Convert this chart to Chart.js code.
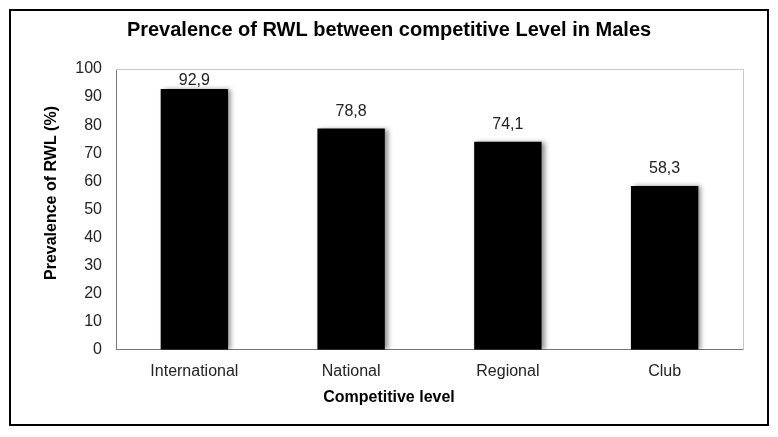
<!DOCTYPE html>
<html>
<head>
<meta charset="utf-8">
<script src="https://cdn.jsdelivr.net/npm/chart.js@4"></script>
<style>
  body { margin: 0; background: #fff; }
  #wrap { position: absolute; left: 9px; top: 9px; width: 756px; height: 413px; border: 2px solid #000; }
  canvas { display: block; }
</style>
</head>
<body>
<div id="wrap"><canvas id="rwlChart" width="756" height="413"></canvas></div>
<script>
// Chart data
const levels = ['International', 'National', 'Regional', 'Club'];
const prevalence = [92.9, 78.8, 74.1, 58.3];
const yTicks = [0, 10, 20, 30, 40, 50, 60, 70, 80, 90, 100];

const FONT = '"Liberation Sans", Arial, sans-serif';

// shadow behind the bars, like the original
const barShadow = {
    id: 'barShadow',
    beforeDatasetsDraw(chart) {
        const ctx = chart.ctx;
        ctx.save();
        ctx.shadowColor = 'rgba(0,0,0,0.45)';
        ctx.shadowBlur = 5;
        ctx.shadowOffsetX = 3;
        ctx.shadowOffsetY = 0;
    },
    afterDatasetsDraw(chart) {
        chart.ctx.restore();
    }
};

// value labels, top/right frame and the y axis title
const extras = {
    id: 'extras',
    afterDraw(chart) {
        const ctx = chart.ctx;
        const area = chart.chartArea;
        ctx.save();
        ctx.strokeStyle = '#c8c8c8';
        ctx.lineWidth = 1;
        ctx.beginPath();
        ctx.moveTo(area.left, area.top + 0.5);
        ctx.lineTo(area.right + 0.5, area.top + 0.5);
        ctx.lineTo(area.right + 0.5, area.bottom);
        ctx.stroke();

        ctx.fillStyle = '#222';
        ctx.font = '16px ' + FONT;
        ctx.textAlign = 'center';
        ctx.textBaseline = 'middle';
        chart.getDatasetMeta(0).data.forEach((bar, i) => {
            const y = Math.max(bar.y - 17, area.top + 12);
            ctx.fillText(prevalence[i].toFixed(1).replace('.', ','), bar.x, y);
        });

        ctx.translate(41, 182);
        ctx.rotate(-Math.PI / 2);
        ctx.fillStyle = '#000';
        ctx.font = 'bold 16px ' + FONT;
        ctx.fillText('Prevalence of RWL (%)', 0, 0);
        ctx.restore();
    }
};

new Chart(document.getElementById('rwlChart'), {
    type: 'bar',
    data: {
        labels: levels,
        datasets: [{
            data: prevalence,
            backgroundColor: '#000',
            borderWidth: 0,
            barPercentage: 0.43,
            categoryPercentage: 1
        }]
    },
    options: {
        responsive: false,
        animation: false,
        layout: { padding: { left: 24, right: 24, top: 0, bottom: 0 } },
        plugins: {
            legend: { display: false },
            tooltip: { enabled: false },
            title: {
                display: true,
                text: 'Prevalence of RWL between competitive Level in Males',
                color: '#000',
                font: { family: FONT, size: 20, weight: 'bold' },
                padding: { top: 7, bottom: 27 }
            },
            subtitle: {
                display: true,
                position: 'bottom',
                text: 'Competitive level',
                color: '#000',
                font: { family: FONT, size: 16, weight: 'bold' },
                padding: { top: 0, bottom: 17 }
            }
        },
        scales: {
            x: {
                grid: { display: false, drawTicks: false },
                border: { display: true, color: '#777', width: 1 },
                ticks: { color: '#222', padding: 12, font: { family: FONT, size: 16 } },
                afterFit(scale) { scale.height = 38; }
            },
            y: {
                min: 0,
                max: 100,
                grid: { display: false, drawTicks: false },
                border: { display: true, color: '#777', width: 1 },
                afterBuildTicks(scale) { scale.ticks = yTicks.map(v => ({ value: v })); },
                ticks: { color: '#222', padding: 14, font: { family: FONT, size: 16 } },
                afterFit(scale) { scale.width = 81; }
            }
        }
    },
    plugins: [barShadow, extras]
});
</script>
</body>
</html>
